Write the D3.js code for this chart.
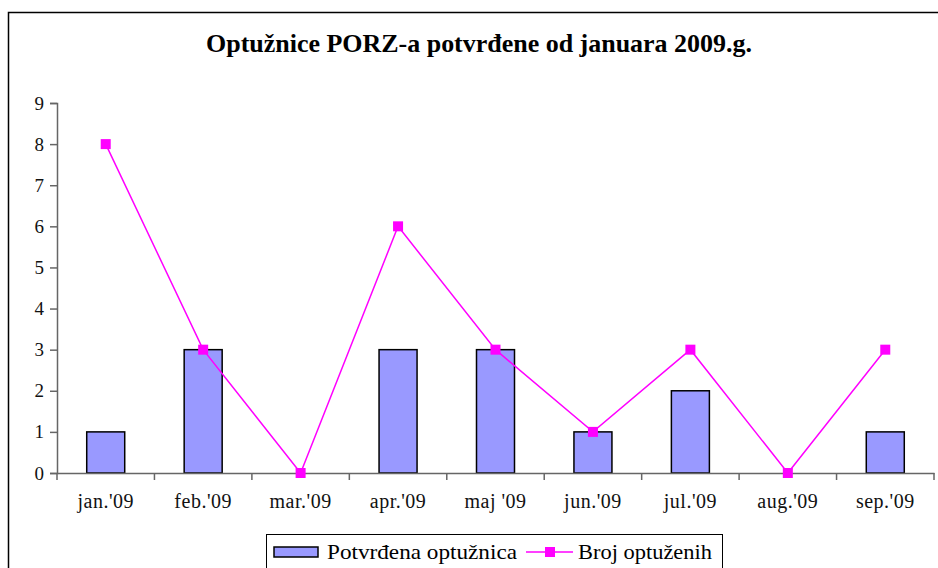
<!DOCTYPE html>
<html>
<head>
<meta charset="utf-8">
<script src="https://cdn.jsdelivr.net/npm/d3@7"></script>
</head>
<body style="margin:0;background:#fff">
<svg id="chart" width="938" height="568"></svg>
<script>
// chart data
const months = ["jan.'09", "feb.'09", "mar.'09", "apr.'09", "maj '09", "jun.'09", "jul.'09", "aug.'09", "sep.'09"];
const potvrdjene = [1, 3, 0, 3, 3, 1, 2, 0, 1];
const optuzeni = [8, 3, 0, 6, 3, 1, 3, 0, 3];
const yTicks = [0, 1, 2, 3, 4, 5, 6, 7, 8, 9];

const serif = "Liberation Serif";
const svg = d3.select("#chart");

// outer frame (cut off on right and bottom like the original)
svg.append("rect")
  .attr("x", 8.5).attr("y", 12.5)
  .attr("width", 940).attr("height", 570)
  .attr("fill", "white")
  .attr("stroke", "black")
  .attr("stroke-width", 1.5);

svg.append("text")
  .attr("x", 206).attr("y", 52)
  .attr("font-family", serif)
  .attr("font-size", "25px")
  .attr("font-weight", "bold")
  .attr("textLength", 546)
  .attr("lengthAdjust", "spacingAndGlyphs")
  .text("Optužnice PORZ-a potvrđene od januara 2009.g.");

const plotL = 57, plotR = 934, plotT = 103, plotB = 473;

const x = d3.scaleBand().domain(months).range([plotL, plotR]).paddingInner(0).paddingOuter(0);
const y = d3.scaleLinear().domain([0, 9]).range([plotB, plotT]);

// bars
svg.append("g").selectAll("rect")
  .data(months)
  .enter().append("rect")
  .attr("x", (d) => x(d) + x.bandwidth() / 2 - 19)
  .attr("y", (d, i) => y(potvrdjene[i]))
  .attr("width", 38)
  .attr("height", (d, i) => plotB - y(potvrdjene[i]))
  .attr("fill", "#9999ff")
  .attr("stroke", "black")
  .attr("stroke-width", 1.5)
  .style("display", (d, i) => potvrdjene[i] === 0 ? "none" : null);

// y axis
const yAxis = svg.append("g")
  .attr("transform", `translate(${plotL},0)`)
  .call(d3.axisLeft(y).tickValues(yTicks).tickSize(7).tickPadding(6))
  .attr("font-family", serif)
  .attr("font-size", 19);
yAxis.selectAll("text").attr("fill", "#111");
yAxis.selectAll("line, path").attr("stroke", "#666").attr("stroke-width", 1.5);

// x axis
const xAxis = svg.append("g")
  .attr("transform", `translate(0,${plotB})`)
  .call(d3.axisBottom(x).tickSize(0).tickPadding(21))
  .attr("font-family", serif)
  .attr("font-size", 20);
xAxis.select(".domain").attr("stroke", "#666").attr("stroke-width", 1.5);
xAxis.selectAll("text").attr("fill", "#111").attr("letter-spacing", 0.5);
// tick marks between categories
svg.append("g").selectAll("line")
  .data(months.concat(["end"]))
  .enter().append("line")
  .attr("x1", (d, i) => (i < months.length ? x(d) : plotR))
  .attr("x2", (d, i) => (i < months.length ? x(d) : plotR))
  .attr("y1", plotB).attr("y2", plotB + 7)
  .attr("stroke", "#666").attr("stroke-width", 1.5);

// line series
const line = d3.line()
  .x((d, i) => x(months[i]) + x.bandwidth() / 2)
  .y((d) => y(d));
svg.append("path")
  .datum(optuzeni)
  .attr("d", line)
  .attr("fill", "none")
  .attr("stroke", "#ff00ff")
  .attr("stroke-width", 1.5);
svg.append("g").selectAll("rect")
  .data(optuzeni)
  .enter().append("rect")
  .attr("x", (d, i) => x(months[i]) + x.bandwidth() / 2 - 5)
  .attr("y", (d) => y(d) - 5)
  .attr("width", 10).attr("height", 10)
  .attr("fill", "#ff00ff");

// legend
const legend = svg.append("g").attr("font-family", serif).attr("font-size", 22);
legend.append("rect")
  .attr("x", 266.5).attr("y", 534.5)
  .attr("width", 456).attr("height", 50)
  .attr("fill", "white").attr("stroke", "black").attr("stroke-width", 1);
legend.append("rect")
  .attr("x", 274).attr("y", 547)
  .attr("width", 44).attr("height", 10)
  .attr("fill", "#9999ff").attr("stroke", "black").attr("stroke-width", 1.5);
legend.append("text")
  .attr("x", 327).attr("y", 559)
  .attr("textLength", 190).attr("lengthAdjust", "spacingAndGlyphs")
  .text("Potvrđena optužnica");
legend.append("line")
  .attr("x1", 526).attr("x2", 573).attr("y1", 552).attr("y2", 552)
  .attr("stroke", "#ff00ff").attr("stroke-width", 1.5);
legend.append("rect")
  .attr("x", 545).attr("y", 547).attr("width", 10).attr("height", 10)
  .attr("fill", "#ff00ff");
legend.append("text")
  .attr("x", 578).attr("y", 559)
  .attr("textLength", 134).attr("lengthAdjust", "spacingAndGlyphs")
  .text("Broj optuženih");
</script>
</body>
</html>
